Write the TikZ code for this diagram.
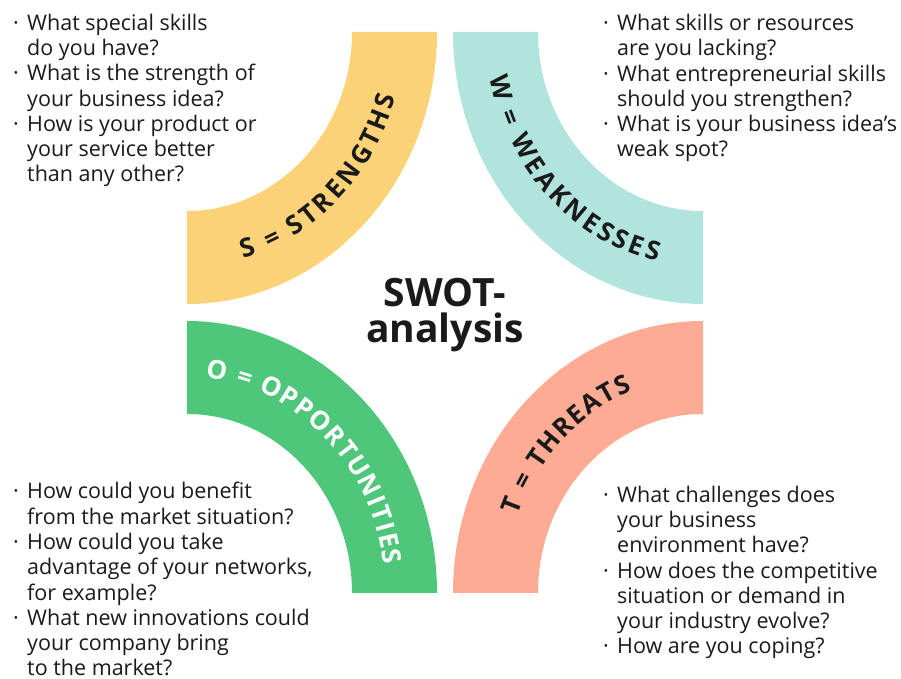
\documentclass[tikz,border=0pt]{standalone}
\usepackage{fontspec}
\setmainfont{Open Sans}
\usetikzlibrary{decorations.text}
\definecolor{swotyellow}{HTML}{FCD278}
\definecolor{swotteal}{HTML}{B2E4DE}
\definecolor{swotgreen}{HTML}{4FC77A}
\definecolor{swotred}{HTML}{FDAB94}
\definecolor{ink}{HTML}{1A1A1A}
\newcommand{\bul}{\makebox[14pt][l]{·}}
\newcommand{\ind}{\makebox[14pt]{}}
\newcommand{\tagfont}{\bfseries\fontsize{26}{26}\selectfont}

\begin{document}
\begin{tikzpicture}[x=1pt,y=1pt,
  qlist/.style={anchor=base west,align=left,inner sep=0pt,text=ink,
    font=\fontsize{21.5}{25.3}\selectfont},
  blabel/.style={decorate,decoration={text along path,text align=fit to path,
    raise=-9.3pt,text color=ink}}]
\useasboundingbox (0,0) rectangle (901,679);
\coordinate (cs) at (187,647);
\coordinate (cw) at (703,647);
\coordinate (co) at (187,86);
\coordinate (ct) at (703,86);
% the four bands
\fill[swotyellow] (cs) ++(-90:250pt and 272pt) arc[start angle=-90,end angle=0,x radius=250pt,y radius=272pt]
  -- ++(-85,0) arc[start angle=0,end angle=-90,x radius=165pt,y radius=179pt] -- cycle;
\fill[swotteal] (cw) ++(180:250pt and 272pt) arc[start angle=180,end angle=270,x radius=250pt,y radius=272pt]
  -- ++(0,93) arc[start angle=270,end angle=180,x radius=165pt,y radius=179pt] -- cycle;
\fill[swotgreen] (co) ++(0:250pt and 272pt) arc[start angle=0,end angle=90,x radius=250pt,y radius=272pt]
  -- ++(0,-93) arc[start angle=90,end angle=0,x radius=165pt,y radius=179pt] -- cycle;
\fill[swotred] (ct) ++(90:250pt and 272pt) arc[start angle=90,end angle=180,x radius=250pt,y radius=272pt]
  -- ++(85,0) arc[start angle=180,end angle=90,x radius=165pt,y radius=179pt] -- cycle;
% labels on the bands
\path[blabel,decoration={text={|\tagfont|S = STRENGTHS}}]
  (cs) ++(-75:207.5pt and 225.5pt) arc[start angle=-75,end angle=-16,x radius=207.5pt,y radius=225.5pt];
\path[blabel,decoration={text={|\tagfont|W = WEAKNESSES}}]
  (cw) ++(191:207.5pt and 225.5pt) arc[start angle=191,end angle=258,x radius=207.5pt,y radius=225.5pt];
\path[blabel,decoration={text={|\tagfont|O = OPPORTUNITIES},text color=white}]
  (co) ++(84.5:207.5pt and 225.5pt) arc[start angle=84.5,end angle=7.5,x radius=207.5pt,y radius=225.5pt];
\path[blabel,decoration={text={|\tagfont|T = THREATS}}]
  (ct) ++(159:207.5pt and 225.5pt) arc[start angle=159,end angle=111,x radius=207.5pt,y radius=225.5pt];
% centre title
\node[font=\bfseries\fontsize{39}{36}\selectfont,align=center,anchor=base,text=ink] (title) at (445,336) {SWOT-\\analysis};
% question lists
\node[qlist] (strengths) at (13,497) {\bul What special skills\\ \ind do you have?\\
  \bul What is the strength of\\ \ind your business idea?\\ \bul How is your product or\\
  \ind your service better\\ \ind than any other?};
\node[qlist] (weaknesses) at (603,522) {\bul What skills or resources\\ \ind are you lacking?\\
  \bul What entrepreneurial skills\\ \ind should you strengthen?\\
  \bul What is your business idea’s\\ \ind weak spot?};
\node[qlist] (opportunities) at (13,3) {\bul How could you benefit\\ \ind from the market situation?\\
  \bul How could you take\\ \ind advantage of your networks,\\ \ind for example?\\
  \bul What new innovations could\\ \ind your company bring\\ \ind to the market?};
\node[qlist] (threats) at (603,25) {\bul What challenges does\\ \ind your business\\
  \ind environment have?\\ \bul How does the competitive\\ \ind situation or demand in\\
  \ind your industry evolve?\\ \bul How are you coping?};
\end{tikzpicture}
\end{document}
